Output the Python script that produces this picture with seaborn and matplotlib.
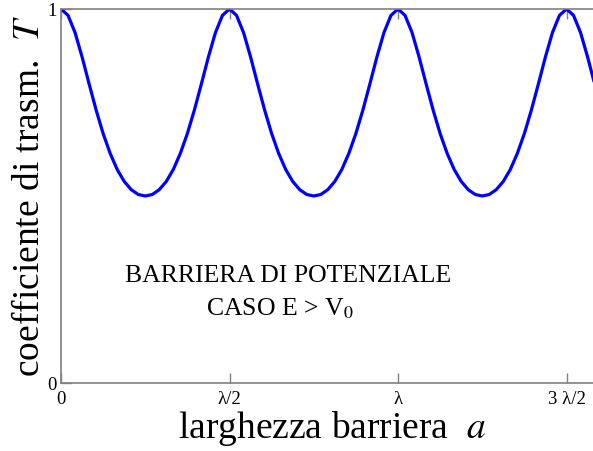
import matplotlib
matplotlib.use("Agg")
import matplotlib.pyplot as plt
import seaborn as sns
import pandas as pd

# barrier width in units of lambda (step lambda/48)
barrier_width = [i / 48 for i in range(77)]
# transmission coefficient
transmission = [
    1.000, 0.983, 0.937, 0.872, 0.800, 0.730, 0.667, 0.614, 0.571, 0.539, 0.517, 0.504,
    0.500, 0.504, 0.517, 0.539, 0.571, 0.614, 0.667, 0.730, 0.800, 0.872, 0.937, 0.983,
    1.000, 0.983, 0.937, 0.872, 0.800, 0.730, 0.667, 0.614, 0.571, 0.539, 0.517, 0.504,
    0.500, 0.504, 0.517, 0.539, 0.571, 0.614, 0.667, 0.730, 0.800, 0.872, 0.937, 0.983,
    1.000, 0.983, 0.937, 0.872, 0.800, 0.730, 0.667, 0.614, 0.571, 0.539, 0.517, 0.504,
    0.500, 0.504, 0.517, 0.539, 0.571, 0.614, 0.667, 0.730, 0.800, 0.872, 0.937, 0.983,
    1.000, 0.983, 0.937, 0.872, 0.800,
]
x_ticks = [0, 0.5, 1.0, 1.5]
x_tick_labels = ["0", "λ/2", "λ", "3 λ/2"]
y_ticks = [0, 1]
y_tick_labels = ["0", "1"]

sns.set_style("white")
plt.rcParams["font.family"] = ["Liberation Serif", "DejaVu Serif"]
plt.rcParams["mathtext.fontset"] = "stix"
plt.rcParams["text.color"] = "black"
plt.rcParams["axes.labelcolor"] = "black"
plt.rcParams["xtick.color"] = "black"
plt.rcParams["ytick.color"] = "black"

df = pd.DataFrame({"a": barrier_width, "T": transmission})

fig = plt.figure(figsize=(5.93, 4.51), dpi=100)
W, H = 593, 451
left, top, bottom = 61, 9, 383
px_per_unit = 337.0
xmax = 1.62
ax = fig.add_axes([left / W, (H - bottom) / H, xmax * px_per_unit / W, (bottom - top) / H])

sns.lineplot(data=df, x="a", y="T", ax=ax, color="#0000ff", linewidth=2.3)

ax.set_xlim(0, xmax)
ax.set_ylim(0, 1)
ax.set_xticks(x_ticks)
ax.set_xticklabels(x_tick_labels, fontsize=13.5)
ax.set_yticks(y_ticks)
ax.set_yticklabels(y_tick_labels, fontsize=13.5)
ax.tick_params(direction="in", length=7, width=1, color="#808080",
               labelcolor="black", top=True, bottom=True, left=True, right=False)
ax.tick_params(axis="x", pad=6)
ax.tick_params(axis="y", pad=3)
for s in ax.spines.values():
    s.set_color("#808080")
    s.set_linewidth(1.2)

ax.set_xlabel("larghezza barriera  $a$", fontsize=27)
ax.set_ylabel("coefficiente di trasm.  $T$", fontsize=27, labelpad=0)
# place x label centred under the visible part of the figure
ax.xaxis.set_label_coords((332 - left) / (xmax * px_per_unit), -(409 - 383) / 374)
ax.xaxis.label.set_va("top")

ax.text((288 - left) / px_per_unit, (383 - 276.5) / 374, "BARRIERA DI POTENZIALE",
        fontsize=18.5, ha="center", va="center")
ax.text((280 - left) / px_per_unit, (383 - 309) / 374, r"CASO E > V$_{\mathrm{0}}$",
        fontsize=18.5, ha="center", va="center")

fig.savefig("out.png", dpi=100)
